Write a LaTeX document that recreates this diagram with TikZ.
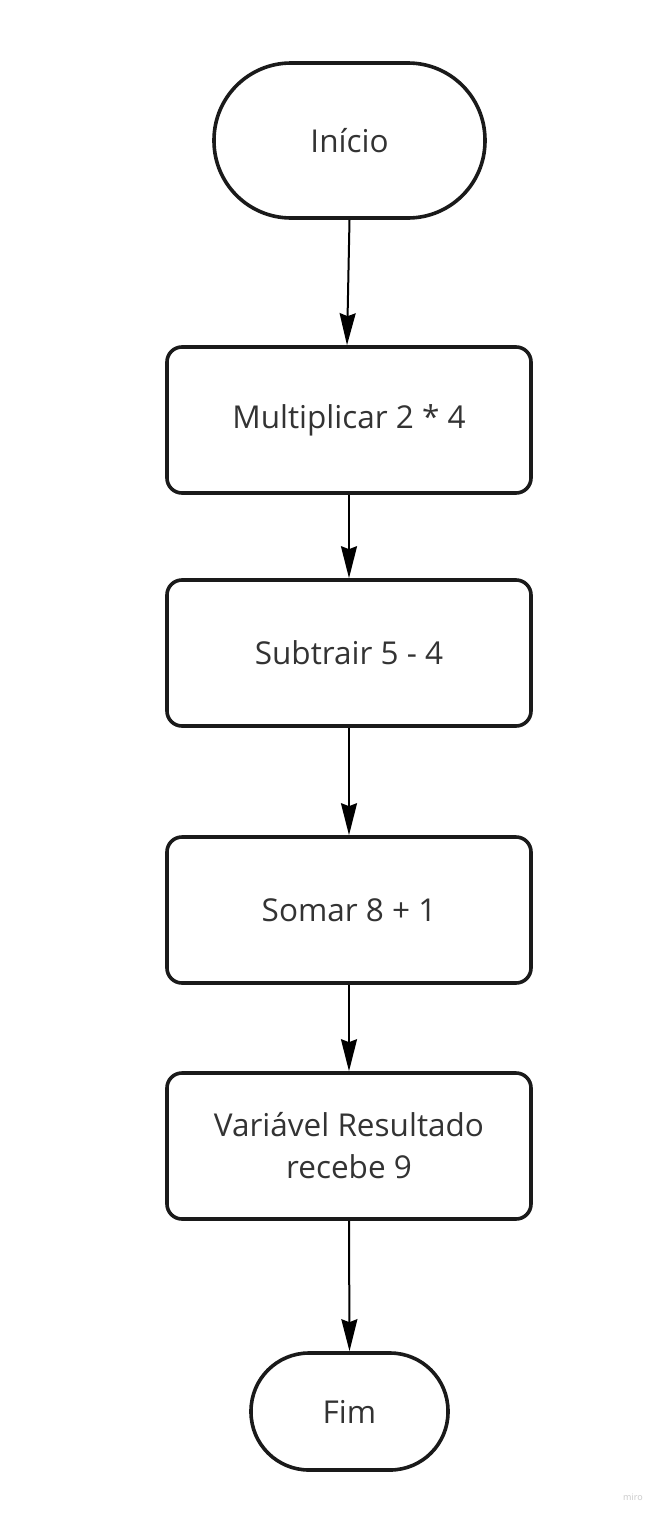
\documentclass[tikz,border=0pt]{standalone}
\usepackage{fontspec}
\setmainfont{Open Sans}
\usetikzlibrary{arrows.meta}
\definecolor{txt}{HTML}{333333}
\definecolor{edge}{HTML}{1A1A1A}
\definecolor{wm}{HTML}{C8C8C8}
\begin{document}
\begin{tikzpicture}[x=1pt,y=-1pt,
  base/.style={draw=edge, line width=3.6pt, fill=white, inner sep=0pt, text=txt,
    font=\fontsize{31.5}{42}\selectfont, align=center},
  proc/.style={base, rectangle, rounded corners=15pt, minimum width=364pt, minimum height=146pt},
  term/.style={base, rectangle},
  flow/.style={draw=black, line width=2pt, -{Stealth[length=32pt,width=16pt,inset=3pt]}}]
\useasboundingbox[fill=white] (0,0) rectangle (659,1515);
\node[term, rounded corners=77pt, minimum width=271pt, minimum height=155pt] (ini) at (349.5,140.5) {Início};
\node[proc] (mul) at (349,420) {Multiplicar 2 * 4};
\node[proc] (sub) at (349,653) {Subtrair 5 - 4};
\node[proc] (som) at (349,910) {Somar 8 + 1};
\node[proc] (var) at (349,1146) {Variável Resultado\\recebe 9};
\node[term, rounded corners=58pt, minimum width=197pt, minimum height=117pt] (fim) at (349.5,1411.5) {Fim};
\node[text=wm, font=\fontsize{9}{11}\selectfont] (miro) at (633,1497) {miro};
\draw[flow] (ini.south) -- ([xshift=-2pt]mul.north);
\draw[flow] (mul.south) -- (sub.north);
\draw[flow] (sub.south) -- (som.north);
\draw[flow] (som.south) -- (var.north);
\draw[flow] (var.south) -- (fim.north);
\end{tikzpicture}
\end{document}
